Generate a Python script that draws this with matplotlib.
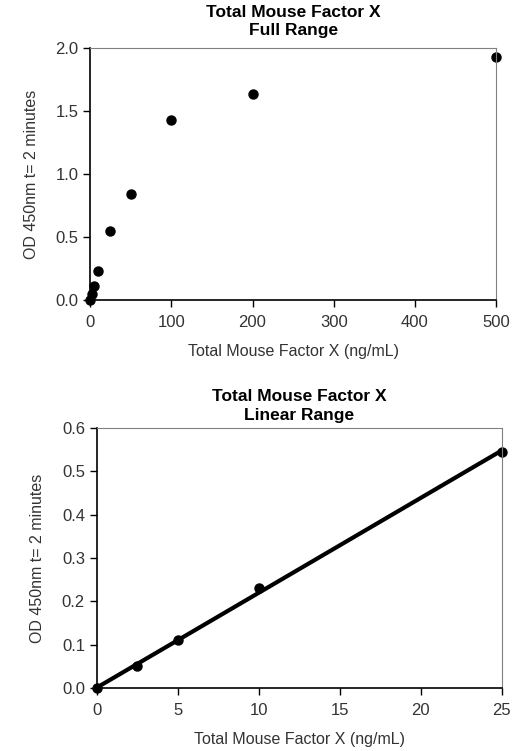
import numpy as np
import matplotlib.pyplot as plt

plt.rcParams['font.family'] = ['Liberation Sans', 'DejaVu Sans']

# Full range data
conc_full = [0, 2.5, 5, 10, 25, 50, 100, 200, 500]
od_full = [0.0, 0.05, 0.11, 0.23, 0.545, 0.84, 1.43, 1.635, 1.93]

# Linear range data
conc_lin = [0, 2.5, 5, 10, 25]
od_lin = [0.0, 0.05, 0.11, 0.23, 0.545]

XLABEL = 'Total Mouse Factor X (ng/mL)'
YLABEL = 'OD 450nm t= 2 minutes'


def style_axes(ax):
    ax.spines['top'].set_color('#808080')
    ax.spines['right'].set_color('#808080')
    ax.spines['left'].set_linewidth(1.2)
    ax.spines['bottom'].set_linewidth(1.2)
    ax.tick_params(direction='out', length=5, width=1, labelsize=12, colors='black')
    ax.tick_params(axis='x', pad=6)
    ax.tick_params(axis='both', labelcolor='#333333')


fig = plt.figure(figsize=(5.12, 7.51), dpi=100)

# Top: full range
ax1 = fig.add_axes([0.176, 0.6005, 0.793, 0.3356])
ax1.plot(conc_full, od_full, 'o', color='black', markersize=6.5, clip_on=False)
ax1.set_xlim(0, 500)
ax1.set_ylim(0, 2.0)
ax1.set_xticks(np.arange(0, 501, 100))
ax1.set_yticks(np.arange(0, 2.01, 0.5))
ax1.yaxis.set_major_formatter(plt.FormatStrFormatter('%.1f'))
ax1.set_title('Total Mouse Factor X\nFull Range', fontsize=12.5, fontweight='bold', linespacing=1.3, pad=9)
ax1.set_xlabel(XLABEL, fontsize=11.5, color='#333333', labelpad=10)
ax1.set_ylabel(YLABEL, fontsize=11.5, color='#333333', labelpad=12)
style_axes(ax1)

# Bottom: linear range with fit
ax2 = fig.add_axes([0.189, 0.0839, 0.791, 0.346])
slope, intercept = np.polyfit(conc_lin, od_lin, 1)
xfit = np.array([0, 25])
ax2.plot(xfit, slope * xfit + intercept, '-', color='black', linewidth=3, clip_on=False)
ax2.plot(conc_lin, od_lin, 'o', color='black', markersize=6.5, clip_on=False)
ax2.set_xlim(0, 25)
ax2.set_ylim(0, 0.6)
ax2.set_xticks(np.arange(0, 26, 5))
ax2.set_yticks(np.arange(0, 0.61, 0.1))
ax2.yaxis.set_major_formatter(plt.FormatStrFormatter('%.1f'))
ax2.set_title('Total Mouse Factor X\nLinear Range', fontsize=12.5, fontweight='bold', linespacing=1.3, pad=6)
ax2.set_xlabel(XLABEL, fontsize=11.5, color='#333333', labelpad=10)
ax2.set_ylabel(YLABEL, fontsize=11.5, color='#333333', labelpad=12)
style_axes(ax2)

fig.savefig('out.png', dpi=100)
